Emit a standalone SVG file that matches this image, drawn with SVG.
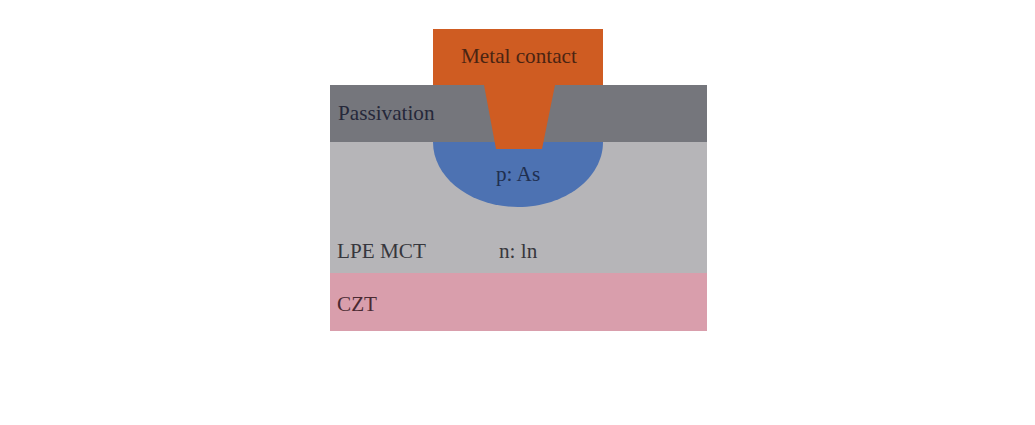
<svg xmlns="http://www.w3.org/2000/svg" width="1035" height="425" viewBox="0 0 1035 425">
<style>
text{font-family:"Liberation Serif","Times New Roman",serif;font-size:21.2px;fill:#37373d}
</style>
<rect width="1035" height="425" fill="#ffffff"/>
<g id="mct"><rect x="330" y="142" width="377" height="132" fill="#b6b5b8"/>
<text x="337" y="258">LPE MCT</text><text x="499" y="258">n: ln</text></g>
<g id="czt"><rect x="330" y="273" width="377" height="58" fill="#d99eac"/>
<text x="337" y="311" style="fill:#4a2a32">CZT</text></g>
<g id="p-region"><path d="M433 142H603C603 178 565 207 518 207C471 207 433 178 433 142Z" fill="#4d72b2"/>
<text x="496" y="181" style="fill:#1f2f50">p: As</text></g>
<g id="passivation"><rect x="330" y="85" width="377" height="57" fill="#75767c"/>
<text x="338" y="120" style="fill:#25283a">Passivation</text></g>
<g id="metal"><path d="M433 29H603V85H555L542 149H496L484 85H433Z" fill="#cf5c22"/>
<text x="461" y="63" style="fill:#4a2412">Metal contact</text></g>
</svg>
